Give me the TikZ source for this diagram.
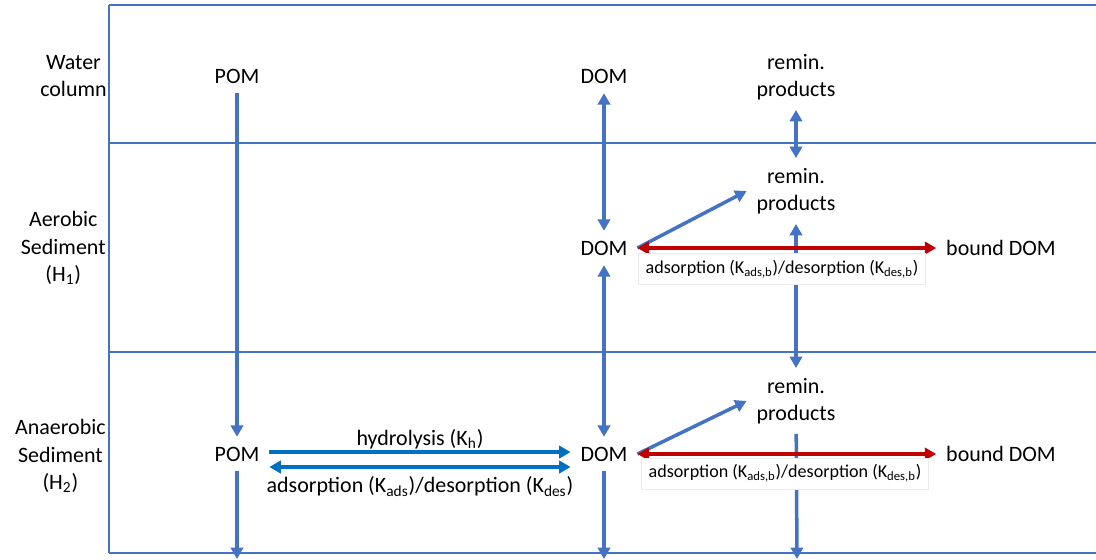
\documentclass[tikz,border=0pt]{standalone}
\usepackage{fontspec}
\setmainfont{Carlito}
\usetikzlibrary{arrows.meta}
\definecolor{frameblue}{HTML}{4472C4}
\definecolor{hydblue}{HTML}{0070C0}
\definecolor{sorbred}{HTML}{C00000}
\newcommand{\bigfs}{\fontsize{12.5}{15.5}\selectfont}
\newcommand{\smallfs}{\fontsize{10.3}{12}\selectfont}
\begin{document}
\begin{tikzpicture}[scale=0.2,
    pool/.style={inner sep=5.5pt, font=\bigfs, align=center},
    zone/.style={anchor=east, inner sep=0pt, font=\bigfs, align=center},
    flux/.style={line width=2pt, frameblue, -{Triangle[length=6.5pt,width=7pt]}},
    twoway/.style={flux, {Triangle[length=6.5pt,width=7pt]}-{Triangle[length=6.5pt,width=7pt]}},
    hyd/.style={line width=2pt, hydblue, -{Triangle[length=6.5pt,width=7pt]}},
    sorb/.style={line width=2pt, sorbred, {Triangle[length=6.5pt,width=7pt]}-{Triangle[length=6.5pt,width=7pt]}},
    rate/.style={text=black, font=\bigfs, inner sep=1pt},
    ratebox/.style={draw=black!8, fill=white, font=\smallfs, minimum width=5.75cm, minimum height=0.62cm, inner sep=0pt}]
      \useasboundingbox (0,0) rectangle (109.6,-55.9);
      % layers
      \draw [frameblue, line width=1pt] (10.9,-0.5) -- (109.6,-0.5);
      \draw [frameblue, line width=1pt] (10.9,-14.3) -- (109.6,-14.3);
      \draw [frameblue, line width=1pt] (10.9,-35.2) -- (109.6,-35.2);
      \draw [frameblue, line width=1pt] (10.9,-55.3) -- (109.6,-55.3);
      \draw [frameblue, line width=1pt] (10.9,-0.5) -- (10.9,-55.3);
      \node [zone] (lblW) at (10.7,-7.6) {Water\\column};
      \node [zone] (lblA) at (10.6,-24.8) {Aerobic\\Sediment\\(H\textsubscript{1})};
      \node [zone] (lblH) at (10.6,-45.6) {Anaerobic\\Sediment\\(H\textsubscript{2})};
      % pools
      \node [pool] (pomW) at (23.7,-7.6) {POM};
      \node [pool] (domW) at (60.4,-7.6) {DOM};
      \node [pool] (remW) at (79.6,-7.7) {remin.\\products};
      \node [pool] (domA) at (60.4,-24.8) {DOM};
      \node [pool] (remA) at (79.6,-19.1) {remin.\\products};
      \node [pool] (bndA) at (100.1,-24.8) {bound DOM};
      \node [pool] (pomH) at (23.7,-45.4) {POM};
      \node [pool] (domH) at (60.4,-45.4) {DOM};
      \node [pool] (remH) at (79.6,-40.1) {remin.\\products};
      \node [pool] (bndH) at (100.1,-45.4) {bound DOM};
      \coordinate (pomOut) at (23.7,-55.9);
      \coordinate (domOut) at (60.4,-55.9);
      \coordinate (remOut) at (79.7,-55.9);
      % fluxes
      \draw [flux] (pomW) -- (pomH);
      \draw [flux] (pomH) -- (pomOut);
      \draw [twoway] (domW) -- (domA);
      \draw [twoway] (domA) -- (domH);
      \draw [flux] (domH) -- (domOut);
      \draw [twoway] (remW) -- (remA);
      \draw [twoway] (remA) -- (remH);
      \draw [flux] (remH) -- (remOut);
      \draw [flux] (domA.east) -- (remA.west);
      \draw [flux] (domH.east) -- (remH.west);
      \draw [sorb] (domA) -- (bndA);
      \draw [sorb] (domH) -- (bndH);
      % shifts are scaled by 0.2 too
      \draw [hyd] ([yshift=5.5pt]pomH.east) -- ([yshift=5.5pt]domH.west)
        node [midway, above, rate] {hydrolysis (K\textsubscript{h})};
      \draw [hyd, {Triangle[length=6.5pt,width=7pt]}-{Triangle[length=6.5pt,width=7pt]}] ([yshift=-37pt]pomH.east) -- ([yshift=-37pt]domH.west)
        node [midway, below, rate, inner sep=4.5pt] {adsorption (K\textsubscript{ads})/desorption (K\textsubscript{des})};
      % rate labels
      \node [ratebox] (rateA) at (78.2,-26.9) {adsorption (K\textsubscript{ads,b})/desorption (K\textsubscript{des,b})};
      \node [ratebox] (rateH) at (78.5,-47.35) {adsorption (K\textsubscript{ads,b})/desorption (K\textsubscript{des,b})};
\end{tikzpicture}
\end{document}
